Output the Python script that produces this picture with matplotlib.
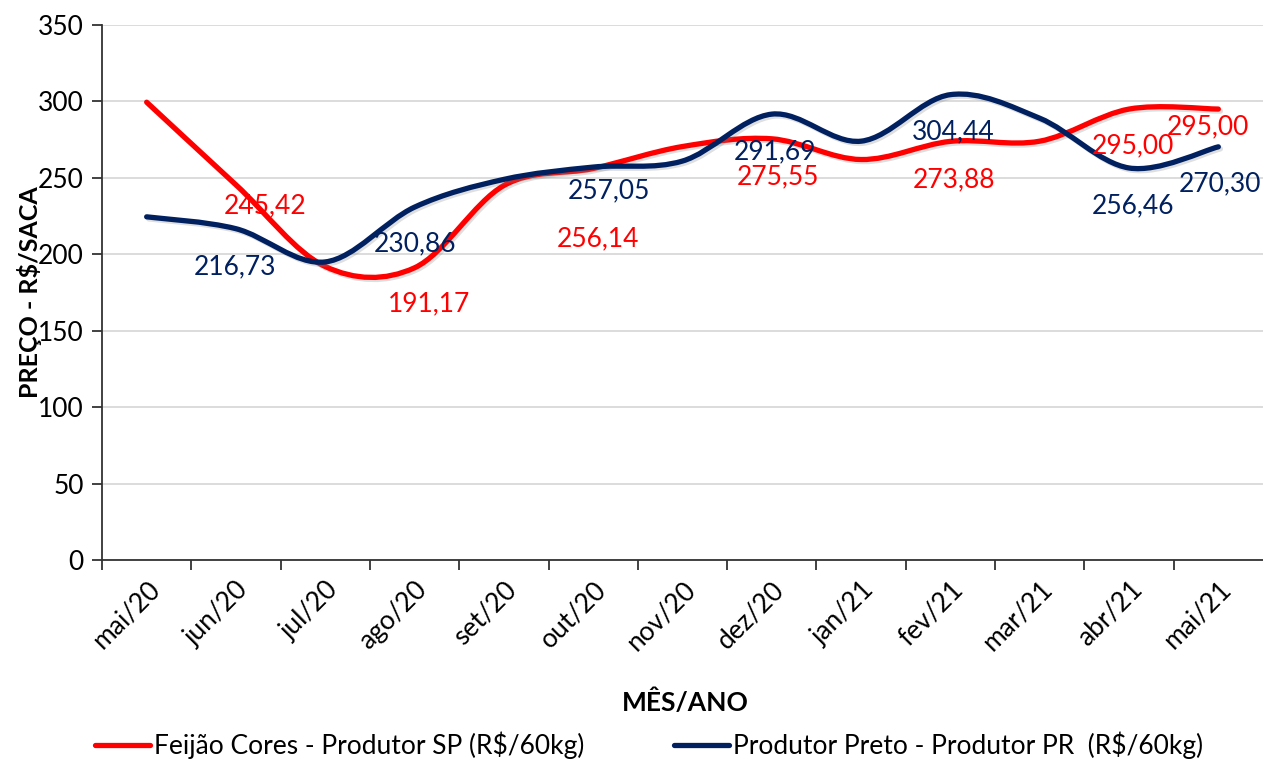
import matplotlib.pyplot as plt
import matplotlib.patheffects as pe
from matplotlib.path import Path
from matplotlib.patches import PathPatch
from matplotlib.lines import Line2D

meses = ['mai/20', 'jun/20', 'jul/20', 'ago/20', 'set/20', 'out/20', 'nov/20',
         'dez/20', 'jan/21', 'fev/21', 'mar/21', 'abr/21', 'mai/21']
feijao_sp = [299.5, 245.42, 192.0, 191.17, 245.0, 256.14, 270.5,
             275.55, 262.0, 273.88, 274.0, 295.00, 295.00]
preto_pr = [224.5, 216.73, 195.0, 230.86, 249.0, 257.05, 261.0,
            291.69, 274.0, 304.44, 289.0, 256.46, 270.30]
# meses com rotulo
rotulos = [1, 3, 5, 7, 9, 11, 12]

vermelho = '#FF0000'
azul = '#002060'
plt.rcParams['font.family'] = ['Lato', 'DejaVu Sans']


def curva_suave(ys):
    # bezier no estilo do excel (linha suavizada)
    pts = list(enumerate(ys))
    verts = [pts[0]]
    codes = [Path.MOVETO]
    n = len(pts)
    for i in range(n - 1):
        p0 = pts[max(i - 1, 0)]
        p1 = pts[i]
        p2 = pts[i + 1]
        p3 = pts[min(i + 2, n - 1)]
        c1 = (p1[0] + (p2[0] - p0[0]) / 6, p1[1] + (p2[1] - p0[1]) / 6)
        c2 = (p2[0] - (p3[0] - p1[0]) / 6, p2[1] - (p3[1] - p1[1]) / 6)
        verts += [c1, c2, p2]
        codes += [Path.CURVE4] * 3
    return Path(verts, codes)


fig = plt.figure(figsize=(12.63, 7.6), dpi=100)
ax = fig.add_axes([102 / 1263, 1 - 560 / 760, 1161 / 1263, 535 / 760])

sombra = [pe.SimpleLineShadow(offset=(1.5, -1.5), alpha=0.25, shadow_color='gray'), pe.Normal()]
for ys, cor in [(feijao_sp, vermelho), (preto_pr, azul)]:
    patch = PathPatch(curva_suave(ys), facecolor='none', edgecolor=cor, lw=3.8,
                      capstyle='round', zorder=3)
    patch.set_path_effects(sombra)
    ax.add_patch(patch)

# rotulos de dados (deslocamento em pixels)
desl_sp = {1: (29, -21), 3: (14, -36), 5: (5, -70), 7: (6, -38), 9: (4, -38), 11: (4, -37), 12: (-10, -18)}
desl_pr = {1: (-1, -38), 3: (0, -37), 5: (16, -24), 7: (3, -38), 9: (3, -37), 11: (4, -38), 12: (2, -37)}
for i in rotulos:
    ax.annotate(f'{feijao_sp[i]:.2f}'.replace('.', ','), (i, feijao_sp[i]),
                xytext=desl_sp[i], textcoords='offset pixels', ha='center', va='center',
                fontsize=19, color=vermelho, zorder=4)
    ax.annotate(f'{preto_pr[i]:.2f}'.replace('.', ','), (i, preto_pr[i]),
                xytext=desl_pr[i], textcoords='offset pixels', ha='center', va='center',
                fontsize=19, color=azul, zorder=4)

ax.set_xlim(-0.5, len(meses) - 0.5)
ax.set_ylim(0, 350)
ax.set_yticks(range(0, 351, 50))
ax.set_xticks(range(len(meses)))
ax.set_xticklabels(meses, rotation=45, ha='right', rotation_mode='anchor', fontsize=19)
ax.set_xticks([i - 0.5 for i in range(len(meses))], minor=True)
ax.tick_params(axis='x', which='major', length=0, pad=12)
ax.tick_params(axis='x', which='minor', length=7, width=1.3, color='#333333')
ax.tick_params(axis='y', length=7, width=1.3, color='#333333', labelsize=19, pad=6)

ax.grid(axis='y', color='#d9d9d9', lw=1.3)
ax.set_axisbelow(True)
for s in ['top', 'right']:
    ax.spines[s].set_visible(False)
for s in ['left', 'bottom']:
    ax.spines[s].set_linewidth(1.3)
    ax.spines[s].set_color('#333333')

ax.set_ylabel('PREÇO - R$/SACA', fontsize=18, fontweight='bold')
ax.yaxis.set_label_coords(-0.052, 0.5)
ax.set_xlabel('MÊS/ANO', fontsize=19, fontweight='bold')
ax.xaxis.set_label_coords(583 / 1161, -130 / 535)

handles = [Line2D([], [], color=vermelho, lw=3.8, solid_capstyle='round'),
           Line2D([], [], color=azul, lw=3.8, solid_capstyle='round')]
fig.legend(handles, ['Feijão Cores - Produtor SP (R$/60kg)', 'Produtor Preto - Produtor PR  (R$/60kg)'],
           loc='center', bbox_to_anchor=(649 / 1263, 1 - 745 / 760), ncol=2, frameon=False,
           fontsize=19, handlelength=2.1, handletextpad=0.15, columnspacing=3.4)

fig.savefig('out.png', dpi=100)
